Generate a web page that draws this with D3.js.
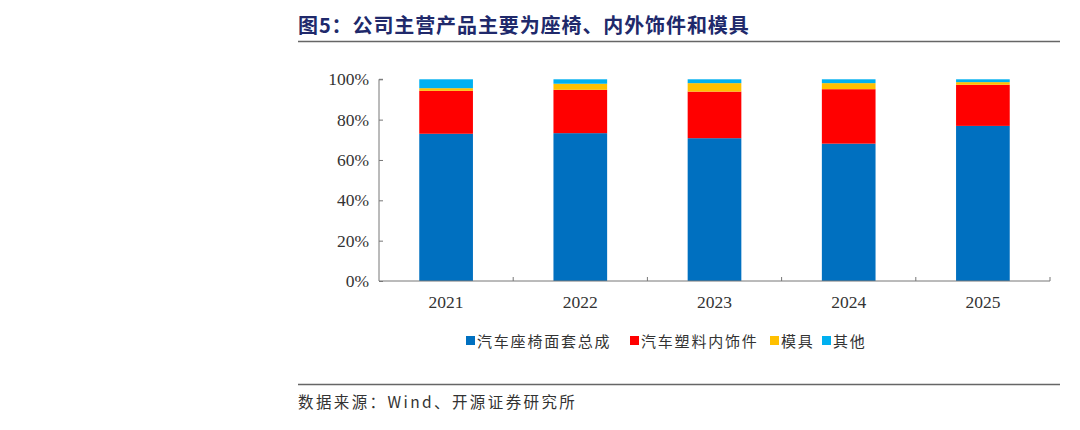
<!DOCTYPE html>
<html>
<head>
<meta charset="utf-8">
<script src="https://cdn.jsdelivr.net/npm/d3@7"></script>
<style>
  body { margin: 0; background: #fff; }
  svg { display: block; }
</style>
</head>
<body>
<div id="chart"></div>
<script>
// data (share of revenue, %)
const years = ["2021", "2022", "2023", "2024", "2025"];
const seatCover = [73.0, 73.3, 70.8, 68.1, 76.9];
const plasticTrim = [21.3, 21.5, 23.1, 27.0, 20.4];
const moulds = [1.3, 3.0, 4.2, 3.0, 1.3];
const others = [4.4, 2.2, 1.9, 1.9, 1.4];
const seriesNames = ["汽车座椅面套总成", "汽车塑料内饰件", "模具", "其他"];
const yTicks = [0, 20, 40, 60, 80, 100];

const W = 1080, H = 430;
const plot = { left: 379, right: 1050, top: 79.3, bottom: 281 };

const svg = d3.select("#chart")
  .append("svg")
    .attr("width", W)
    .attr("height", H);

// title + rules
svg.append("text")
    .attr("x", 298)
    .attr("y", 33)
    .attr("font-family", "'Noto Sans CJK SC', sans-serif")
    .attr("font-weight", "bold")
    .attr("font-size", 20)
    .attr("fill", "#20296b")
    .attr("letter-spacing", 0.9)
    .text("图5：公司主营产品主要为座椅、内外饰件和模具");

svg.append("line")
    .attr("x1", 298).attr("x2", 1060)
    .attr("y1", 41.5).attr("y2", 41.5)
    .attr("stroke", "#666").attr("stroke-width", 1.5);

svg.append("line")
    .attr("x1", 298).attr("x2", 1060)
    .attr("y1", 384.5).attr("y2", 384.5)
    .attr("stroke", "#666").attr("stroke-width", 1.5);

svg.append("text")
    .attr("x", 298)
    .attr("y", 408)
    .attr("font-family", "'Noto Sans CJK SC', sans-serif")
    .attr("font-size", 15.5)
    .attr("fill", "#333")
    .attr("letter-spacing", 2.4)
    .text("数据来源：Wind、开源证券研究所");

// scales
const x = d3.scaleBand()
    .domain(years)
    .range([plot.left, plot.right])
    .paddingInner(0.6)
    .paddingOuter(0.3);

const xEdge = d3.scaleBand()
    .domain(years)
    .range([plot.left, plot.right]);

const y = d3.scaleLinear()
    .domain([0, 100])
    .range([plot.bottom, plot.top]);

const color = d3.scaleOrdinal()
    .domain(seriesNames)
    .range(["#0070c0", "#ff0000", "#ffc000", "#00b0f0"]);

// stack
const rows = years.map((yr, i) => ({
  year: yr,
  [seriesNames[0]]: seatCover[i],
  [seriesNames[1]]: plasticTrim[i],
  [seriesNames[2]]: moulds[i],
  [seriesNames[3]]: others[i]
}));
const stacked = d3.stack().keys(seriesNames)(rows);

svg.append("g")
  .selectAll("g")
  .data(stacked)
  .join("g")
    .attr("fill", d => color(d.key))
  .selectAll("rect")
  .data(d => d)
  .join("rect")
    .attr("x", d => x(d.data.year))
    .attr("width", x.bandwidth())
    .attr("y", d => y(d[1]))
    .attr("height", d => y(d[0]) - y(d[1]));

// y axis
const yAxis = svg.append("g")
    .attr("transform", `translate(${plot.left},0)`)
    .call(d3.axisRight(y).tickValues(yTicks).tickSize(4).tickFormat(d => d + "%"));
yAxis.select(".domain").attr("stroke", "#777").attr("d", `M4,${plot.top}H0V${plot.bottom}`);
yAxis.selectAll(".tick line").attr("stroke", "#777");
yAxis.selectAll(".tick text")
    .attr("x", -10)
    .attr("text-anchor", "end")
    .attr("font-family", "'Liberation Serif', serif")
    .attr("font-size", 17.5)
    .attr("fill", "#333");

// x axis, ticks between categories
const xAxis = svg.append("g")
    .attr("transform", `translate(0,${plot.bottom})`);
xAxis.append("line")
    .attr("x1", plot.left).attr("x2", plot.right)
    .attr("stroke", "#777");
xAxis.selectAll("line.tk")
  .data(years)
  .join("line")
    .attr("class", "tk")
    .attr("x1", d => xEdge(d) + xEdge.bandwidth())
    .attr("x2", d => xEdge(d) + xEdge.bandwidth())
    .attr("y1", 0).attr("y2", -4)
    .attr("stroke", "#777");
xAxis.selectAll("text")
  .data(years)
  .join("text")
    .attr("x", d => x(d) + x.bandwidth() / 2)
    .attr("y", 27)
    .attr("text-anchor", "middle")
    .attr("font-family", "'Liberation Serif', serif")
    .attr("font-size", 17.5)
    .attr("fill", "#333")
    .text(d => d);

// legend
const legendX = [466, 630, 770, 822];
const legend = svg.append("g")
  .selectAll("g")
  .data(seriesNames)
  .join("g")
    .attr("transform", (d, i) => `translate(${legendX[i]},341)`);
legend.append("rect")
    .attr("x", 0).attr("y", -5)
    .attr("width", 9).attr("height", 9)
    .attr("fill", d => color(d));
legend.append("text")
    .attr("x", 11)
    .attr("y", 5.5)
    .attr("font-family", "'Noto Sans CJK SC', sans-serif")
    .attr("font-size", 15)
    .attr("letter-spacing", 1.8)
    .attr("fill", "#333")
    .text(d => d);
</script>
</body>
</html>
